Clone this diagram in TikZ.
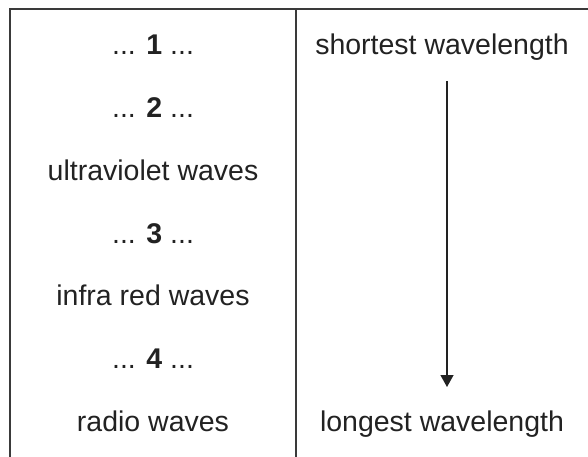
\documentclass[tikz,border=0pt]{standalone}
\usepackage{fontspec}
\setmainfont{Liberation Sans}
\usetikzlibrary{arrows.meta}
\definecolor{txt}{HTML}{222222}
\definecolor{ln}{HTML}{3A3A3A}
\begin{document}
\begin{tikzpicture}[x=1pt,y=-1pt,
  lbl/.style={anchor=base,inner sep=0pt,text=txt,font=\fontsize{28.5}{34}\selectfont},
  rule/.style={draw=ln,line width=1.6pt},
  flow/.style={draw=txt,line width=1.3pt,-{Triangle[length=12pt,width=13pt]}}]
\useasboundingbox (0,0) rectangle (588,457);
\coordinate (tl) at (10,9);
\coordinate (tr) at (588,9);
\coordinate (bl) at (10,457);
\coordinate (tm) at (296,9);
\coordinate (bm) at (296,457);
\draw[rule] (bl) -- (tl) -- (tr);
\draw[rule] (tm) -- (bm);
\node[lbl] (r1) at (153,55) {... \textbf{1} ...};
\node[lbl] (r2) at (153,117.7) {... \textbf{2} ...};
\node[lbl] (r3) at (153,180.3) {ultraviolet waves};
\node[lbl] (r4) at (153,243) {... \textbf{3} ...};
\node[lbl] (r5) at (153,305.7) {infra red waves};
\node[lbl] (r6) at (153,368.3) {... \textbf{4} ...};
\node[lbl] (r7) at (153,431) {radio waves};
\node[lbl] (s) at (442,55) {shortest wavelength};
\node[lbl] (l) at (442,431) {longest wavelength};
\coordinate (a1) at (447,81);
\coordinate (a2) at (447,387);
\draw[flow] (a1) -- (a2);
\end{tikzpicture}
\end{document}
